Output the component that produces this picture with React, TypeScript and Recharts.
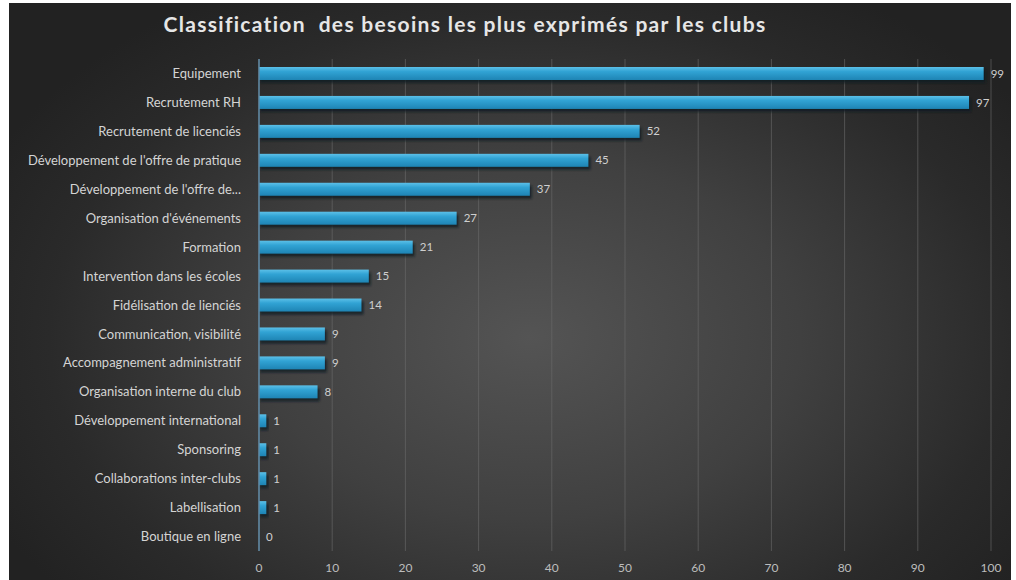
import { Bar, BarChart, CartesianGrid, LabelList, XAxis, YAxis } from "recharts";

const besoins = [
  "Equipement",
  "Recrutement RH",
  "Recrutement de licenciés",
  "Développement de l'offre de pratique",
  "Développement de l'offre de...",
  "Organisation d'événements",
  "Formation",
  "Intervention dans les écoles",
  "Fidélisation de lienciés",
  "Communication, visibilité",
  "Accompagnement administratif",
  "Organisation interne du club",
  "Développement international",
  "Sponsoring",
  "Collaborations inter-clubs",
  "Labellisation",
  "Boutique en ligne"
];

const nbClubs = [99, 97, 52, 45, 37, 27, 21, 15, 14, 9, 9, 8, 1, 1, 1, 1, 0];

const xTicks = [0, 10, 20, 30, 40, 50, 60, 70, 80, 90, 100];

const data = besoins.map((name, i) => ({ name, value: nbClubs[i] }));

const font = "Lato, 'Open Sans', sans-serif";

// bar with the soft drop shadow of the original office chart
const ShadowBar = (props: any) => {
  const { x, y, width, height } = props;
  if (!width || width <= 0) return <g />;
  return (
    <g>
      <rect
        x={x + 1}
        y={y + 3}
        width={width + 1}
        height={height}
        fill="#0c1a24"
        opacity={0.75}
        filter="url(#barShadow)"
      />
      <rect x={x} y={y} width={width} height={height} fill="url(#barFill)" />
    </g>
  );
};

export default function App() {
  return (
    <div
      style={{
        position: "fixed",
        left: 0,
        top: 0,
        width: 1016,
        height: 580,
        background: "#ffffff",
        overflow: "hidden"
      }}
    >
      <svg width={0} height={0} style={{ position: "absolute" }}>
        <defs>
          <linearGradient id="barFill" x1="0" y1="0" x2="0" y2="1">
            <stop offset="0%" stopColor="#5cc0e8" />
            <stop offset="35%" stopColor="#31a3d4" />
            <stop offset="100%" stopColor="#1e84b4" />
          </linearGradient>
          <filter id="barShadow" x="-5%" y="-50%" width="110%" height="200%">
            <feGaussianBlur stdDeviation="1.2" />
          </filter>
        </defs>
      </svg>
      <div
        style={{
          position: "absolute",
          left: 9,
          top: 3,
          width: 1002,
          height: 577,
          background:
            "radial-gradient(ellipse 60% 70% at 52% 58%, #545454 0%, #404040 45%, #2a2a2a 80%, #222222 100%)"
        }}
      />
      <div
        style={{
          position: "absolute",
          left: 0,
          top: 11,
          width: 930,
          textAlign: "center",
          fontFamily: font,
          fontWeight: 700,
          fontSize: 21,
          letterSpacing: 1.3,
          color: "#e6e6e6"
        }}
      >
        Classification&nbsp; des besoins les plus exprimés par les clubs
      </div>
      <div style={{ position: "absolute", left: 0, top: 0 }}>
        <BarChart
          width={1016}
          height={580}
          data={data}
          layout="vertical"
          margin={{ top: 59, right: 25, bottom: 0, left: 0 }}
          barCategoryGap={8}
        >
          <CartesianGrid horizontal={false} stroke="#6a6a6a" strokeOpacity={0.6} />
          <XAxis
            type="number"
            domain={[0, 100]}
            ticks={xTicks}
            height={29}
            axisLine={false}
            tickLine={false}
            tickMargin={6}
            tick={{ fill: "#bdbdbd", fontSize: 12, fontFamily: font }}
          />
          <YAxis
            type="category"
            dataKey="name"
            width={259}
            axisLine={{ stroke: "#5f8aa6", strokeWidth: 1.5 }}
            tickLine={false}
            tickMargin={12}
            interval={0}
            tick={{ fill: "#d4d4d4", fontSize: 13, fontFamily: font }}
          />
          <Bar dataKey="value" shape={ShadowBar} isAnimationActive={false}>
            <LabelList
              dataKey="value"
              position="right"
              offset={7}
              fill="#cfcfcf"
              fontSize={11.5}
              fontFamily={font}
            />
          </Bar>
        </BarChart>
      </div>
    </div>
  );
}
